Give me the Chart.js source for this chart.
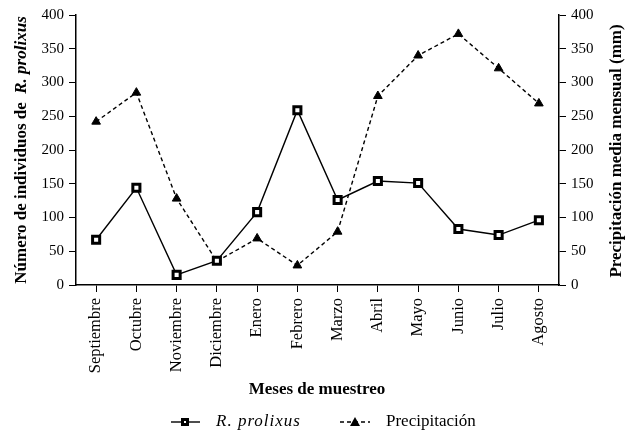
<!DOCTYPE html>
<html>
<head>
<meta charset="utf-8">
<script src="https://cdn.jsdelivr.net/npm/chart.js@4"></script>
<style>
  html, body { margin: 0; padding: 0; background: #fff; }
  #wrap { width: 628px; height: 432px; }
</style>
</head>
<body>
<div id="wrap"><canvas id="chartMeses"></canvas></div>
<script>
const meses = ['Septiembre', 'Octubre', 'Noviembre', 'Diciembre', 'Enero', 'Febrero',
  'Marzo', 'Abril', 'Mayo', 'Junio', 'Julio', 'Agosto'];
const prolixus = [67, 144, 15, 36, 108, 259, 126, 154, 151, 83, 74, 96];
const precipitacion = [242, 285, 128, 35, 69, 29, 79, 280, 340, 372, 321, 269];
const ticksY = [0, 50, 100, 150, 200, 250, 300, 350, 400];

const serif = '"Liberation Serif", "Times New Roman", serif';

// axis titles + legend drawn by hand (mixed italic / bold text)
const extras = {
  id: 'extras',
  afterDraw(chart) {
    const c = chart.ctx;
    const area = chart.chartArea;
    c.save();
    c.fillStyle = '#000';
    c.textBaseline = 'middle';

    // left title
    c.save();
    c.translate(22, (area.top + area.bottom) / 2);
    c.rotate(-Math.PI / 2);
    const t1 = 'Número de individuos de  ';
    const t2 = 'R. prolixus';
    c.font = 'bold 17px ' + serif;
    const w1 = c.measureText(t1).width;
    c.font = 'bold italic 17px ' + serif;
    const w2 = c.measureText(t2).width;
    let x0 = -(w1 + w2) / 2;
    c.textAlign = 'left';
    c.font = 'bold 17px ' + serif;
    c.fillText(t1, x0, 0);
    c.font = 'bold italic 17px ' + serif;
    c.fillText(t2, x0 + w1, 0);
    c.restore();

    // right title
    c.save();
    c.translate(617, 151);
    c.rotate(-Math.PI / 2);
    c.textAlign = 'center';
    c.font = 'bold 17px ' + serif;
    c.fillText('Precipitación media mensual (mm)', 0, 0);
    c.restore();

    // bottom title
    c.textAlign = 'center';
    c.font = 'bold 17px ' + serif;
    c.fillText('Meses de muestreo', 317, 390);

    // legend
    const ly = 422;
    c.strokeStyle = '#000';
    c.lineWidth = 1.4;
    c.beginPath(); c.moveTo(171, ly); c.lineTo(200, ly); c.stroke();
    c.fillStyle = '#000';
    c.fillRect(181, ly - 4, 8, 8);
    c.fillStyle = '#fff';
    c.fillRect(184, ly - 1, 2, 2);
    c.fillStyle = '#000';
    c.textAlign = 'left';
    c.font = 'italic 17px ' + serif;
    c.letterSpacing = '1px';
    c.fillText('R. prolixus', 216, ly);
    c.letterSpacing = '0px';

    c.setLineDash([4, 3]);
    c.beginPath(); c.moveTo(340, ly); c.lineTo(370, ly); c.stroke();
    c.setLineDash([]);
    c.beginPath();
    c.moveTo(355, ly - 5); c.lineTo(360, ly + 4); c.lineTo(350, ly + 4); c.closePath();
    c.fill();
    c.font = '17px ' + serif;
    c.fillText('Precipitación', 386, ly);
    c.restore();
  }
};

const axisTicks = {
  color: '#000',
  font: { family: serif, size: 15 },
  padding: 5
};

new Chart(document.getElementById('chartMeses'), {
  type: 'line',
  data: {
    labels: meses,
    datasets: [{
      label: 'R. prolixus',
      data: prolixus,
      yAxisID: 'y',
      borderColor: '#000',
      borderWidth: 1.4,
      pointStyle: 'rect',
      pointRadius: 5,
      pointBorderWidth: 3,
      pointBackgroundColor: '#fff',
      pointBorderColor: '#000',
      tension: 0
    }, {
      label: 'Precipitación',
      data: precipitacion,
      yAxisID: 'y1',
      borderColor: '#000',
      borderWidth: 1.4,
      borderDash: [4, 3],
      pointStyle: 'triangle',
      pointRadius: 5,
      pointBorderWidth: 1,
      pointBackgroundColor: '#000',
      pointBorderColor: '#000',
      tension: 0
    }]
  },
  plugins: [extras],
  options: {
    responsive: true,
    maintainAspectRatio: false,
    animation: false,
    layout: { padding: { top: 15, left: 0, right: 0, bottom: 0 } },
    plugins: {
      legend: { display: false },
      tooltip: { enabled: false }
    },
    scales: {
      x: {
        offset: true,
        afterFit(s) { s.height = 147; },
        grid: { drawOnChartArea: false, drawTicks: true, tickLength: 7, color: '#000', offset: false },
        border: { display: true, color: '#000', width: 1.5 },
        ticks: Object.assign({}, axisTicks, {
          font: { family: serif, size: 16.5 },
          padding: 6, minRotation: 90, maxRotation: 90, autoSkip: false
        })
      },
      y: {
        position: 'left',
        min: 0, max: 400,
        afterFit(s) { s.width = 76; },
        afterBuildTicks(s) { s.ticks = ticksY.map(v => ({ value: v })); },
        grid: { drawOnChartArea: false, drawTicks: true, tickLength: 7, color: '#000' },
        border: { display: true, color: '#000', width: 1.5 },
        ticks: axisTicks
      },
      y1: {
        position: 'right',
        min: 0, max: 400,
        afterFit(s) { s.width = 69; },
        afterBuildTicks(s) { s.ticks = ticksY.map(v => ({ value: v })); },
        grid: { drawOnChartArea: false, drawTicks: true, tickLength: 7, color: '#000' },
        border: { display: true, color: '#000', width: 1.5 },
        ticks: axisTicks
      }
    }
  }
});
</script>
</body>
</html>
